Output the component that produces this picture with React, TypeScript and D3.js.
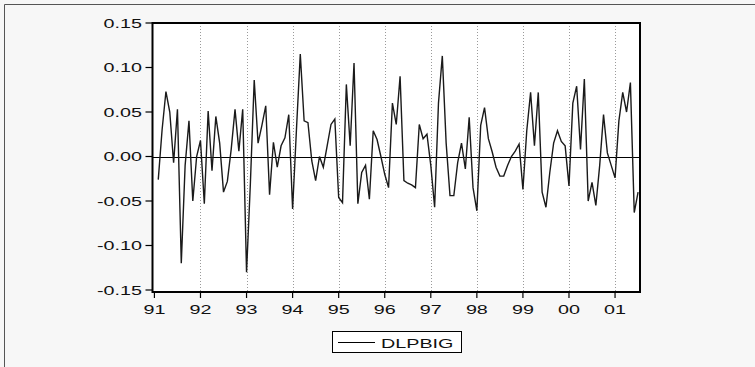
import React from "react";
import * as d3 from "d3";

// Monthly observations 1991M01 .. 2001M07 (first value is NA: log-difference)
const dlpbig: (number | null)[] = [
  null, -0.026, 0.03, 0.073, 0.05, -0.007, 0.053, -0.12, -0.01, 0.04, -0.05, 0.0,
  0.018, -0.053, 0.051, -0.016, 0.045, 0.015, -0.04, -0.028, 0.008, 0.053, 0.006, 0.053,
  -0.13, -0.03, 0.086, 0.015, 0.035, 0.057, -0.043, 0.016, -0.012, 0.012, 0.021, 0.047,
  -0.059, 0.03, 0.115, 0.04, 0.038, -0.005, -0.027, 0.0, -0.012, 0.012, 0.036, 0.042,
  -0.046, -0.052, 0.081, 0.012, 0.105, -0.053, -0.018, -0.01, -0.048, 0.029, 0.019, 0.0,
  -0.02, -0.035, 0.06, 0.036, 0.09, -0.027, -0.03, -0.032, -0.035, 0.036, 0.02, 0.025,
  -0.01, -0.057, 0.06, 0.113, 0.015, -0.044, -0.044, -0.007, 0.015, -0.014, 0.044, -0.035,
  -0.061, 0.035, 0.055, 0.02, 0.005, -0.012, -0.022, -0.022, -0.01, 0.0, 0.006, 0.014,
  -0.037, 0.029, 0.072, 0.012, 0.072, -0.04, -0.057, -0.018, 0.015, 0.029, 0.017, 0.012,
  -0.033, 0.06, 0.079, 0.008, 0.087, -0.05, -0.029, -0.055, -0.01, 0.047, 0.004, -0.01,
  -0.024, 0.04, 0.072, 0.05, 0.083, -0.063, -0.04,
];

const yearLabels = ["91", "92", "93", "94", "95", "96", "97", "98", "99", "00", "01"];
const yTicks = [0.15, 0.1, 0.05, 0.0, -0.05, -0.1, -0.15];
const seriesName = "DLPBIG";

const W = 755;
const H = 367;
const plot = { left: 152.5, right: 640, top: 23, bottom: 292 };
const SX = 1.52; // horizontal text stretch
const font = "'Liberation Sans', Arial, sans-serif";

export default function App() {
  const n = dlpbig.length;
  const x = d3.scaleLinear().domain([-0.5, n - 0.5]).range([plot.left, plot.right]);
  const y = d3.scaleLinear().domain([-0.15, 0.15]).range([290, 23]);

  const line = d3
    .line<number | null>()
    .defined((d) => d != null)
    .x((_, i) => x(i))
    .y((d) => y(d as number));

  const yearIdx = yearLabels.map((_, k) => k * 12);

  const fmt = (v: number) => {
    const s = Math.abs(v).toFixed(2);
    return v < -1e-9 ? "-" + s : s;
  };

  return (
    <svg
      width={W}
      height={H}
      style={{ position: "absolute", left: 0, top: 0, display: "block" }}
    >
      <rect x={0} y={0} width={W} height={H} fill="#f7f7f7" />
      <path d={`M4.5,${H} V4.5 H${W}`} fill="none" stroke="#555" strokeWidth={1} />

      {/* plot area */}
      <rect
        x={plot.left}
        y={plot.top}
        width={plot.right - plot.left}
        height={plot.bottom - plot.top}
        fill="#fff"
      />

      {/* dotted year gridlines */}
      {yearIdx.slice(1).map((i) => (
        <line
          key={"g" + i}
          x1={Math.round(x(i)) + 0.5}
          x2={Math.round(x(i)) + 0.5}
          y1={plot.top}
          y2={plot.bottom}
          stroke="#9a9a9a"
          strokeWidth={1}
          strokeDasharray="1,2"
        />
      ))}

      {/* zero line */}
      <line
        x1={plot.left}
        x2={plot.right}
        y1={Math.round(y(0)) + 0.5}
        y2={Math.round(y(0)) + 0.5}
        stroke="#000"
        strokeWidth={1}
      />

      {/* series */}
      <path d={line(dlpbig) || ""} fill="none" stroke="#1a1a1a" strokeWidth={1.4} strokeLinejoin="miter" />

      {/* frame */}
      <rect
        x={plot.left}
        y={plot.top}
        width={plot.right - plot.left}
        height={plot.bottom - plot.top}
        fill="none"
        stroke="#000"
        strokeWidth={2}
      />

      {/* y axis ticks and labels */}
      {yTicks.map((v) => (
        <g key={"y" + v}>
          <line x1={plot.left - 7} x2={plot.left} y1={y(v)} y2={y(v)} stroke="#000" strokeWidth={1.2} />
          <text
            transform={`translate(142,${y(v) + 4.6}) scale(${SX},1)`}
            textAnchor="end"
            fontFamily={font}
            fontSize={13}
            fill="#111"
          >
            {fmt(v)}
          </text>
        </g>
      ))}

      {/* x axis ticks and labels */}
      {yearIdx.map((i, k) => (
        <g key={"x" + i}>
          <line x1={x(i)} x2={x(i)} y1={plot.bottom} y2={plot.bottom + 6} stroke="#000" strokeWidth={1.2} />
          <text
            transform={`translate(${x(i)},314) scale(${SX},1)`}
            textAnchor="middle"
            fontFamily={font}
            fontSize={13}
            fill="#111"
          >
            {yearLabels[k]}
          </text>
        </g>
      ))}

      {/* legend */}
      <g>
        <rect x={332.5} y={331.5} width={129} height={21} fill="#fff" stroke="#000" strokeWidth={1} />
        <line x1={338} x2={375} y1={342.5} y2={342.5} stroke="#000" strokeWidth={1} />
        <text
          transform={`translate(381,348) scale(${SX},1)`}
          fontFamily={font}
          fontSize={13}
          fill="#111"
        >
          {seriesName}
        </text>
      </g>
    </svg>
  );
}
